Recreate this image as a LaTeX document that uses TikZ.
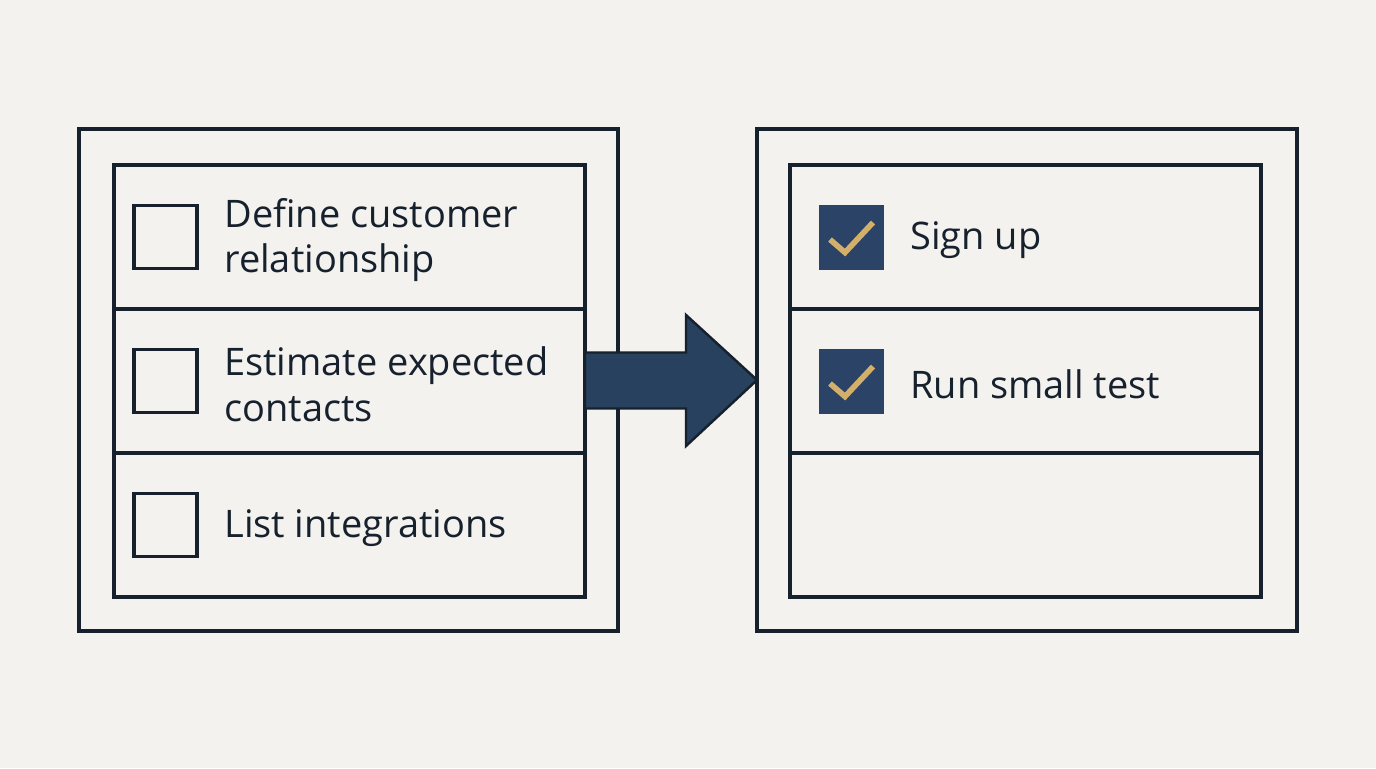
\documentclass[tikz,border=0pt]{standalone}
\usepackage{fontspec}
\setmainfont{Open Sans}
\usepackage{xcolor}
\usetikzlibrary{positioning,backgrounds}
\definecolor{ink}{HTML}{16212D}
\definecolor{navy}{HTML}{2B4367}
\definecolor{gold}{HTML}{D2B06A}
\definecolor{arrowblue}{HTML}{28415F}
\definecolor{paper}{HTML}{F3F2EE}

\begin{document}
\begin{tikzpicture}[
  font=\fontsize{21.6}{26}\selectfont,
  node distance=0mm,
  panel/.style={draw=ink, line width=2.1pt, minimum width=10.78cm,
                minimum height=10.04cm, inner sep=0pt, outer sep=0pt},
  row/.style={draw=ink, line width=2.1pt, minimum width=9.42cm,
              minimum height=2.88cm, inner sep=0pt, outer sep=0pt},
  todo/.style={draw=ink, line width=2.2pt, minimum size=1.26cm,
               inner sep=0pt, outer sep=0pt},
  done/.style={fill=navy, minimum size=1.3cm, inner sep=0pt, outer sep=0pt},
  item/.style={inner sep=0pt, align=left, text=ink, yshift=-0.6mm},
  tick/.style={draw=gold, line width=3.2pt},
  flowbig/.style={fill=arrowblue, draw=ink, line width=1.4pt, line join=miter},
]
\useasboundingbox (0,0) rectangle (27.52,-15.36);
\begin{scope}[on background layer]
  \fill[paper] (0,0) rectangle (27.52,-15.36);
\end{scope}

% before
\node[panel] (lpanel) at (6.97,-7.6) {};
\node[row] (lrow1) at (6.99,-4.74) {};
\node[row, below=of lrow1] (lrow2) {};
\node[row, below=of lrow2] (lrow3) {};
\node[todo, right=4mm of lrow1.west] (lbox1) {};
\node[todo, right=4mm of lrow2.west] (lbox2) {};
\node[todo, right=4mm of lrow3.west] (lbox3) {};
\node[item, right=5.4mm of lbox1] (ltext1) {Define customer\\relationship};
\node[item, right=5.4mm of lbox2] (ltext2) {Estimate expected\\contacts};
\node[item, right=5.4mm of lbox3] (ltext3) {List integrations};

% after
\node[panel, minimum width=10.8cm] (rpanel) at (20.54,-7.6) {};
\node[row] (rrow1) at (20.51,-4.74) {};
\node[row, below=of rrow1] (rrow2) {};
\node[row, below=of rrow2] (rrow3) {};
\node[done, right=5.8mm of rrow1.west] (rbox1) {};
\node[done, right=5.8mm of rrow2.west] (rbox2) {};
\node[item, right=5.2mm of rbox1] (rtext1) {Sign up};
\node[item, right=5.2mm of rbox2] (rtext2) {Run small test};
\foreach \b in {rbox1,rbox2}
  \draw[tick] ([shift={(-0.43,-0.05)}]\b.center) -- ++(0.3,-0.26) -- ++(0.56,0.6);

\draw[flowbig] (lrow2.east) ++(0,0.57) -- ++(2.02,0) -- ++(0,0.75)
  -- (rpanel.west) -- ++(-1.42,-1.32) -- ++(0,0.75) -- ++(-2.02,0) -- cycle;
\end{tikzpicture}
\end{document}
